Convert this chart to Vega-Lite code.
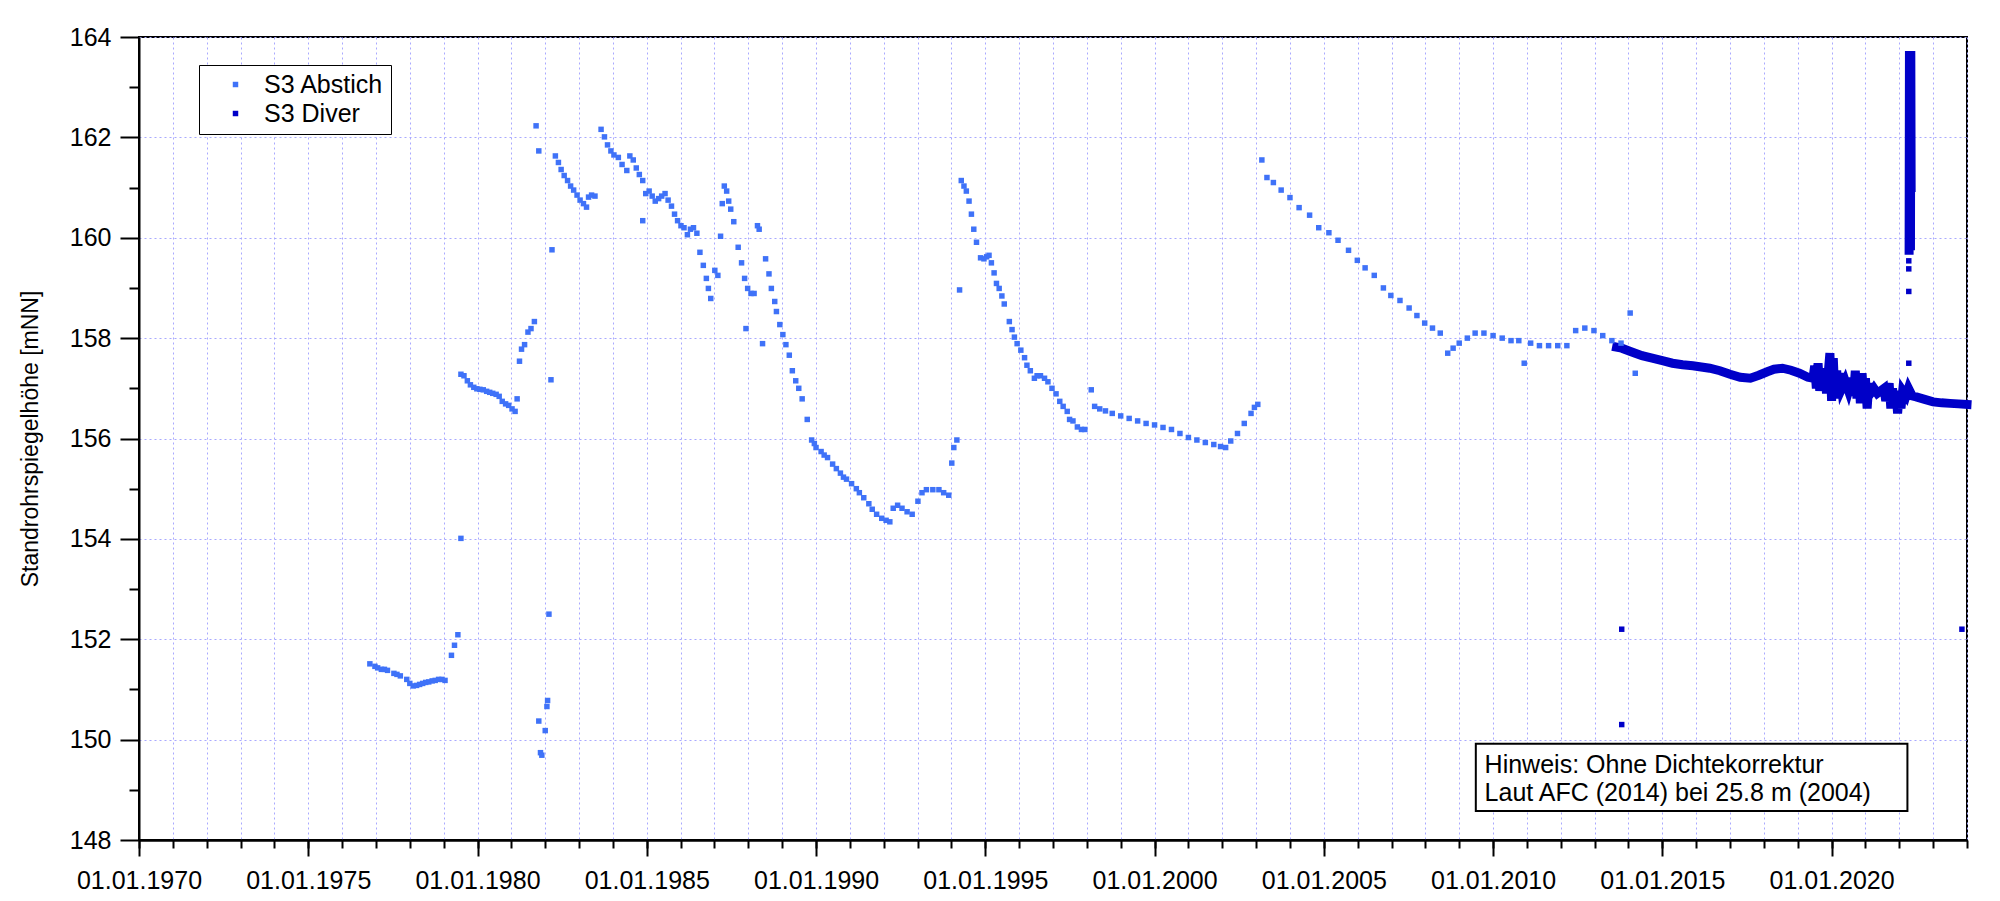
{
  "$schema": "https://vega.github.io/schema/vega-lite/v6.json",
  "width": 1828,
  "height": 803,
  "autosize": {"type": "none"},
  "padding": {"left": 139, "top": 37, "right": 33, "bottom": 61},
  "background": "white",
  "config": {
    "view": {"stroke": "black", "strokeWidth": 2},
    "font": "Liberation Sans",
    "axis": {
      "labelFont": "Liberation Sans",
      "labelFontSize": 25,
      "labelColor": "black",
      "domainColor": "black",
      "domainWidth": 2,
      "tickColor": "black",
      "tickWidth": 2,
      "gridColor": "#a9a9ff",
      "gridDash": [2, 3],
      "gridWidth": 1,
      "titleFont": "Liberation Sans",
      "titleFontWeight": "normal",
      "titleColor": "black"
    }
  },
  "resolve": {"axis": {"x": "independent"}},
  "datasets": {
    "abstich": [
      {"t":1976.82,"v":151.51},{"t":1976.97,"v":151.46},{"t":1977.05,"v":151.43},{"t":1977.16,"v":151.40},{"t":1977.25,"v":151.40},{"t":1977.34,"v":151.38},{"t":1977.53,"v":151.32},{"t":1977.62,"v":151.30},{"t":1977.72,"v":151.27},{"t":1977.91,"v":151.20},{"t":1978.0,"v":151.12},{"t":1978.10,"v":151.07},{"t":1978.2,"v":151.08},{"t":1978.29,"v":151.10},{"t":1978.38,"v":151.12},{"t":1978.47,"v":151.14},{"t":1978.56,"v":151.15},{"t":1978.66,"v":151.17},{"t":1978.75,"v":151.18},{"t":1978.85,"v":151.20},{"t":1978.95,"v":151.20},{"t":1979.04,"v":151.18},{"t":1979.23,"v":151.68},{"t":1979.32,"v":151.88},{"t":1979.42,"v":152.09},{"t":1979.51,"v":154.01},
      {"t":1979.51,"v":157.28},{"t":1979.60,"v":157.25},{"t":1979.70,"v":157.15},{"t":1979.79,"v":157.07},{"t":1979.89,"v":157.02},{"t":1979.98,"v":156.99},{"t":1980.07,"v":156.98},{"t":1980.17,"v":156.97},{"t":1980.27,"v":156.94},{"t":1980.36,"v":156.92},{"t":1980.45,"v":156.90},{"t":1980.55,"v":156.88},{"t":1980.64,"v":156.84},{"t":1980.73,"v":156.74},{"t":1980.83,"v":156.69},{"t":1980.92,"v":156.66},{"t":1981.02,"v":156.59},{"t":1981.11,"v":156.54},{"t":1981.17,"v":156.79},
      {"t":1981.24,"v":157.54},{"t":1981.30,"v":157.78},{"t":1981.39,"v":157.87},{"t":1981.49,"v":158.12},{"t":1981.58,"v":158.19},{"t":1981.68,"v":158.33},
      {"t":1981.73,"v":162.23},{"t":1981.81,"v":161.73},{"t":1982.20,"v":159.76},{"t":1982.17,"v":157.17},{"t":1982.11,"v":152.50},{"t":1982.07,"v":150.78},{"t":1982.05,"v":150.66},{"t":1982.00,"v":150.18},{"t":1981.81,"v":150.37},{"t":1981.86,"v":149.74},{"t":1981.90,"v":149.69},
      {"t":1982.30,"v":161.63},{"t":1982.39,"v":161.50},{"t":1982.47,"v":161.36},{"t":1982.56,"v":161.24},{"t":1982.66,"v":161.14},{"t":1982.75,"v":161.03},{"t":1982.84,"v":160.95},{"t":1982.94,"v":160.85},{"t":1983.03,"v":160.75},{"t":1983.13,"v":160.68},{"t":1983.22,"v":160.61},{"t":1983.28,"v":160.81},{"t":1983.37,"v":160.85},{"t":1983.47,"v":160.83},
      {"t":1983.65,"v":162.16},{"t":1983.75,"v":162.01},{"t":1983.84,"v":161.85},{"t":1983.94,"v":161.73},{"t":1984.03,"v":161.65},{"t":1984.16,"v":161.60},{"t":1984.27,"v":161.46},{"t":1984.41,"v":161.34},{"t":1984.50,"v":161.63},{"t":1984.60,"v":161.55},{"t":1984.69,"v":161.39},{"t":1984.78,"v":161.26},{"t":1984.88,"v":161.14},{"t":1984.88,"v":160.34},{"t":1984.97,"v":160.88},{"t":1985.07,"v":160.93},{"t":1985.16,"v":160.83},{"t":1985.25,"v":160.73},{"t":1985.35,"v":160.78},{"t":1985.44,"v":160.83},{"t":1985.54,"v":160.88},{"t":1985.63,"v":160.75},{"t":1985.73,"v":160.63},{"t":1985.82,"v":160.47},{"t":1985.91,"v":160.34},{"t":1986.01,"v":160.24},{"t":1986.10,"v":160.20},{"t":1986.20,"v":160.06},{"t":1986.29,"v":160.17},{"t":1986.38,"v":160.20},{"t":1986.48,"v":160.09},
      {"t":1986.57,"v":159.71},{"t":1986.67,"v":159.45},{"t":1986.76,"v":159.19},{"t":1986.82,"v":158.99},{"t":1986.89,"v":158.79},{"t":1987.01,"v":159.35},{"t":1987.10,"v":159.25},{"t":1987.18,"v":160.03},{"t":1987.23,"v":160.68},{"t":1987.29,"v":161.03},{"t":1987.36,"v":160.93},{"t":1987.42,"v":160.73},{"t":1987.48,"v":160.57},{"t":1987.57,"v":160.32},{"t":1987.70,"v":159.81},{"t":1987.80,"v":159.50},{"t":1987.89,"v":159.19},{"t":1987.93,"v":158.19},{"t":1987.98,"v":158.99},{"t":1988.08,"v":158.89},{"t":1988.17,"v":158.89},{"t":1988.27,"v":160.24},{"t":1988.32,"v":160.17},{"t":1988.42,"v":157.89},{"t":1988.51,"v":159.58},{"t":1988.61,"v":159.28},{"t":1988.68,"v":158.99},{"t":1988.78,"v":158.73},{"t":1988.83,"v":158.53},{"t":1988.93,"v":158.27},{"t":1989.02,"v":158.07},{"t":1989.11,"v":157.87},{"t":1989.21,"v":157.66},{"t":1989.30,"v":157.35},{"t":1989.40,"v":157.15},{"t":1989.49,"v":157.00},{"t":1989.59,"v":156.79},{"t":1989.74,"v":156.38},{"t":1989.87,"v":155.97},{"t":1989.95,"v":155.90},{"t":1990.00,"v":155.82},{"t":1990.15,"v":155.74},{"t":1990.24,"v":155.67},{"t":1990.34,"v":155.62},{"t":1990.49,"v":155.49},{"t":1990.6,"v":155.40},{"t":1990.72,"v":155.31},{"t":1990.81,"v":155.23},{"t":1990.90,"v":155.19},{"t":1991.05,"v":155.10},{"t":1991.19,"v":155.00},{"t":1991.28,"v":154.92},{"t":1991.41,"v":154.82},{"t":1991.56,"v":154.70},{"t":1991.66,"v":154.59},{"t":1991.79,"v":154.49},{"t":1991.94,"v":154.41},{"t":1992.07,"v":154.37},{"t":1992.18,"v":154.34},{"t":1992.28,"v":154.61},{"t":1992.41,"v":154.67},{"t":1992.54,"v":154.61},{"t":1992.69,"v":154.54},{"t":1992.84,"v":154.49},{"t":1993.01,"v":154.75},{"t":1993.13,"v":154.92},{"t":1993.26,"v":154.98},{"t":1993.45,"v":154.98},{"t":1993.63,"v":154.98},{"t":1993.77,"v":154.92},{"t":1993.92,"v":154.87},{"t":1994.01,"v":155.51},{"t":1994.07,"v":155.82},{"t":1994.16,"v":155.97},{"t":1994.24,"v":158.96},{"t":1994.29,"v":161.14},
      {"t":1994.37,"v":161.03},{"t":1994.44,"v":160.93},{"t":1994.52,"v":160.73},{"t":1994.59,"v":160.47},{"t":1994.66,"v":160.17},{"t":1994.74,"v":159.91},{"t":1994.86,"v":159.60},{"t":1994.96,"v":159.58},{"t":1995.04,"v":159.62},{"t":1995.11,"v":159.65},{"t":1995.18,"v":159.50},{"t":1995.26,"v":159.30},{"t":1995.33,"v":159.09},{"t":1995.41,"v":158.99},{"t":1995.49,"v":158.84},{"t":1995.56,"v":158.68},{"t":1995.71,"v":158.33},{"t":1995.79,"v":158.17},{"t":1995.86,"v":158.02},{"t":1995.94,"v":157.89},{"t":1996.05,"v":157.76},{"t":1996.16,"v":157.61},{"t":1996.23,"v":157.46},{"t":1996.33,"v":157.35},{"t":1996.45,"v":157.20},{"t":1996.53,"v":157.25},{"t":1996.63,"v":157.25},{"t":1996.75,"v":157.20},{"t":1996.85,"v":157.13},{"t":1996.97,"v":157.00},{"t":1997.09,"v":156.89},{"t":1997.20,"v":156.74},{"t":1997.30,"v":156.64},{"t":1997.42,"v":156.54},{"t":1997.49,"v":156.38},{"t":1997.59,"v":156.35},{"t":1997.72,"v":156.23},{"t":1997.84,"v":156.18},{"t":1997.94,"v":156.18},{"t":1998.13,"v":156.97},{"t":1998.23,"v":156.64},{"t":1998.38,"v":156.59},
      {"t":1998.55,"v":156.55},{"t":1998.75,"v":156.5},{"t":1999.0,"v":156.45},{"t":1999.25,"v":156.4},{"t":1999.5,"v":156.35},{"t":1999.75,"v":156.3},{"t":2000.0,"v":156.27},{"t":2000.25,"v":156.22},{"t":2000.5,"v":156.18},{"t":2000.75,"v":156.1},{"t":2001.0,"v":156.02},{"t":2001.25,"v":155.97},{"t":2001.5,"v":155.92},{"t":2001.75,"v":155.88},{"t":2001.95,"v":155.84},{"t":2002.1,"v":155.82},{"t":2002.25,"v":155.95},{"t":2002.45,"v":156.1},{"t":2002.65,"v":156.3},{"t":2002.85,"v":156.5},{"t":2002.95,"v":156.62},{"t":2003.05,"v":156.68},
      {"t":2003.17,"v":161.55},{"t":2003.32,"v":161.2},{"t":2003.51,"v":161.1},{"t":2003.74,"v":160.95},{"t":2004.0,"v":160.8},{"t":2004.27,"v":160.6},{"t":2004.58,"v":160.45},{"t":2004.85,"v":160.2},{"t":2005.15,"v":160.1},{"t":2005.42,"v":159.95},{"t":2005.73,"v":159.75},{"t":2005.99,"v":159.55},{"t":2006.22,"v":159.4},{"t":2006.49,"v":159.25},{"t":2006.76,"v":159.0},{"t":2006.98,"v":158.85},{"t":2007.25,"v":158.75},{"t":2007.52,"v":158.6},{"t":2007.75,"v":158.45},{"t":2007.98,"v":158.3},{"t":2008.21,"v":158.2},{"t":2008.44,"v":158.1},{"t":2008.66,"v":157.7},{"t":2008.82,"v":157.8},{"t":2009.0,"v":157.9},{"t":2009.24,"v":158.0},{"t":2009.47,"v":158.1},{"t":2009.73,"v":158.1},{"t":2010.0,"v":158.05},{"t":2010.27,"v":158.0},{"t":2010.53,"v":157.95},{"t":2010.76,"v":157.95},{"t":2010.92,"v":157.5},{"t":2011.11,"v":157.9},{"t":2011.37,"v":157.85},{"t":2011.64,"v":157.85},{"t":2011.91,"v":157.85},{"t":2012.18,"v":157.85},{"t":2012.44,"v":158.15},{"t":2012.71,"v":158.2},{"t":2012.98,"v":158.15},{"t":2013.24,"v":158.05},{"t":2013.51,"v":157.95},{"t":2013.78,"v":157.9},{"t":2014.05,"v":158.5},{"t":2014.2,"v":157.3}
    ],
    "diver": [
      {"t":2013.65,"v":157.82,"g":"a"},{"t":2013.8,"v":157.8,"g":"a"},{"t":2014.0,"v":157.75,"g":"a"},{"t":2014.2,"v":157.7,"g":"a"},{"t":2014.4,"v":157.65,"g":"a"},{"t":2014.7,"v":157.6,"g":"a"},{"t":2015.0,"v":157.55,"g":"a"},{"t":2015.3,"v":157.5,"g":"a"},{"t":2015.6,"v":157.47,"g":"a"},{"t":2015.9,"v":157.45,"g":"a"},{"t":2016.1,"v":157.43,"g":"a"},{"t":2016.4,"v":157.4,"g":"a"},{"t":2016.7,"v":157.35,"g":"a"},{"t":2017.0,"v":157.28,"g":"a"},{"t":2017.3,"v":157.22,"g":"a"},{"t":2017.6,"v":157.2,"g":"a"},{"t":2017.85,"v":157.26,"g":"a"},{"t":2018.1,"v":157.33,"g":"a"},{"t":2018.3,"v":157.38,"g":"a"},{"t":2018.55,"v":157.4,"g":"a"},{"t":2018.8,"v":157.36,"g":"a"},{"t":2019.05,"v":157.3,"g":"a"},{"t":2019.3,"v":157.22,"g":"a"},{"t":2019.45,"v":157.2,"g":"a"},
      {"t":2019.5,"v":157.45,"g":"a"},{"t":2019.55,"v":157.0,"g":"a"},{"t":2019.6,"v":157.5,"g":"a"},{"t":2019.65,"v":156.95,"g":"a"},{"t":2019.7,"v":157.4,"g":"a"},{"t":2019.75,"v":157.05,"g":"a"},{"t":2019.8,"v":157.35,"g":"a"},{"t":2019.85,"v":156.9,"g":"a"},{"t":2019.9,"v":157.3,"g":"a"},{"t":2019.95,"v":157.7,"g":"a"},{"t":2020.0,"v":156.75,"g":"a"},{"t":2020.05,"v":157.6,"g":"a"},{"t":2020.1,"v":156.8,"g":"a"},{"t":2020.15,"v":157.35,"g":"a"},{"t":2020.2,"v":156.95,"g":"a"},{"t":2020.25,"v":157.3,"g":"a"},{"t":2020.3,"v":157.0,"g":"a"},{"t":2020.4,"v":157.15,"g":"a"},{"t":2020.5,"v":156.95,"g":"a"},{"t":2020.6,"v":157.2,"g":"a"},{"t":2020.65,"v":156.85,"g":"a"},{"t":2020.7,"v":157.35,"g":"a"},{"t":2020.75,"v":156.8,"g":"a"},{"t":2020.8,"v":157.3,"g":"a"},{"t":2020.85,"v":156.7,"g":"a"},{"t":2020.9,"v":157.3,"g":"a"},{"t":2020.95,"v":156.8,"g":"a"},{"t":2021.0,"v":157.2,"g":"a"},{"t":2021.05,"v":156.6,"g":"a"},{"t":2021.1,"v":157.1,"g":"a"},{"t":2021.15,"v":156.9,"g":"a"},{"t":2021.25,"v":157.0,"g":"a"},{"t":2021.35,"v":156.9,"g":"a"},{"t":2021.45,"v":156.95,"g":"a"},{"t":2021.55,"v":157.0,"g":"a"},{"t":2021.6,"v":156.75,"g":"a"},{"t":2021.7,"v":157.1,"g":"a"},{"t":2021.75,"v":156.6,"g":"a"},{"t":2021.8,"v":157.0,"g":"a"},{"t":2021.85,"v":156.65,"g":"a"},{"t":2021.9,"v":156.95,"g":"a"},{"t":2021.95,"v":156.5,"g":"a"},{"t":2022.0,"v":156.9,"g":"a"},{"t":2022.05,"v":156.6,"g":"a"},{"t":2022.1,"v":156.95,"g":"a"},{"t":2022.2,"v":156.85,"g":"a"},{"t":2022.27,"v":157.0,"g":"a"},{"t":2022.38,"v":156.85,"g":"a"},
      {"t":2022.5,"v":156.83,"g":"a"},{"t":2022.75,"v":156.78,"g":"a"},{"t":2023.0,"v":156.73,"g":"a"},{"t":2023.25,"v":156.71,"g":"a"},{"t":2023.5,"v":156.7,"g":"a"},{"t":2023.75,"v":156.69,"g":"a"},{"t":2024.0,"v":156.68,"g":"a"},
      {"t":2022.29,"v":159.75,"g":"b"},{"t":2022.3,"v":163.72,"g":"b"},{"t":2022.34,"v":163.72,"g":"b"},{"t":2022.35,"v":161.0,"g":"b"},{"t":2022.33,"v":159.75,"g":"b"}
    ],
    "diverOut": [
      {"t":2013.8,"v":152.2},{"t":2013.8,"v":150.3},{"t":2023.85,"v":152.2},{"t":2022.28,"v":157.5},{"t":2022.28,"v":158.93},{"t":2022.28,"v":159.38},{"t":2022.28,"v":159.54}
    ],
    "box": [{"x":2009.49,"x2":2022.24,"y":149.92,"y2":148.58}],
    "note": [
      {"x":2009.75,"y":149.5,"txt":"Hinweis: Ohne Dichtekorrektur"},
      {"x":2009.75,"y":148.94,"txt":"Laut AFC (2014) bei 25.8 m (2004)"}
    ]
  },
  "layer": [
    {
      "data": {"name": "box"},
      "mark": {"type": "rect", "fill": "white", "stroke": "black", "strokeWidth": 2},
      "encoding": {
        "x": {
          "field": "x", "type": "quantitative",
          "scale": {"domain": [1970, 2024], "nice": false, "zero": false},
          "axis": {
            "title": null,
            "orient": "bottom",
            "values": [1970,1975,1980,1985,1990,1995,2000,2005,2010,2015,2020],
            "labelExpr": "'01.01.' + datum.value",
            "tickSize": 16,
            "labelPadding": 12,
            "labelOverlap": false,
            "labelFlush": false,
            "grid": false
          }
        },
        "x2": {"field": "x2"},
        "y": {
          "field": "y", "type": "quantitative",
          "scale": {"domain": [148, 164], "nice": false, "zero": false},
          "axis": {
            "title": "Standrohrspiegelhöhe [mNN]",
            "titleFontSize": 23,
            "titlePadding": 27,
            "values": [148,148.5,149,149.5,150,150.5,151,151.5,152,152.5,153,153.5,154,154.5,155,155.5,156,156.5,157,157.5,158,158.5,159,159.5,160,160.5,161,161.5,162,162.5,163,163.5,164],
            "labelExpr": "datum.value % 2 === 0 ? datum.value : ''",
            "tickSize": {"condition": {"test": "datum.value % 2 === 0", "value": 19}, "value": 10},
            "gridOpacity": {"condition": {"test": "datum.value % 2 === 0", "value": 1}, "value": 0},
            "labelPadding": 9,
            "labelOverlap": false,
            "grid": true
          }
        },
        "y2": {"field": "y2"}
      }
    },
    {
      "data": {"name": "note"},
      "mark": {"type": "text", "align": "left", "baseline": "middle", "fontSize": 25, "font": "Liberation Sans", "color": "black"},
      "encoding": {
        "x": {
          "field": "x", "type": "quantitative",
          "axis": {
            "title": null,
            "orient": "bottom",
            "values": [1970,1971,1972,1973,1974,1975,1976,1977,1978,1979,1980,1981,1982,1983,1984,1985,1986,1987,1988,1989,1990,1991,1992,1993,1994,1995,1996,1997,1998,1999,2000,2001,2002,2003,2004,2005,2006,2007,2008,2009,2010,2011,2012,2013,2014,2015,2016,2017,2018,2019,2020,2021,2022,2023,2024],
            "labels": false,
            "tickSize": 8,
            "grid": true,
            "zindex": 0
          }
        },
        "y": {"field": "y", "type": "quantitative"},
        "text": {"field": "txt"}
      }
    },
    {
      "data": {"name": "diver"},
      "mark": {"type": "line", "color": "#0000c8", "strokeWidth": 9, "strokeJoin": "miter", "strokeCap": "square"},
      "encoding": {
        "x": {"field": "t", "type": "quantitative", "axis": null},
        "y": {"field": "v", "type": "quantitative"},
        "detail": {"field": "g"}
      }
    },
    {
      "data": {"name": "abstich"},
      "mark": {"type": "point", "shape": "square", "filled": true, "size": 30, "opacity": 1},
      "encoding": {
        "x": {"field": "t", "type": "quantitative", "axis": null},
        "y": {"field": "v", "type": "quantitative"},
        "color": {
          "datum": "S3 Abstich",
          "scale": {"domain": ["S3 Abstich", "S3 Diver"], "range": ["#3f72f8", "#0000c8"]},
          "legend": {
            "title": null,
            "orient": "none",
            "legendX": 60,
            "legendY": 28,
            "strokeColor": "black",
            "fillColor": "white",
            "padding": 7,
            "symbolType": "square",
            "symbolSize": 30,
            "symbolOffset": 17,
            "labelOffset": 16,
            "labelAlign": "left",
            "labelFontSize": 25,
            "labelFont": "Liberation Sans",
            "labelColor": "black",
            "rowPadding": 3,
            "encode": {"legend": {"update": {"strokeWidth": {"value": 2}}}}
          }
        }
      }
    },
    {
      "data": {"name": "diverOut"},
      "mark": {"type": "point", "shape": "square", "filled": true, "size": 30, "opacity": 1},
      "encoding": {
        "x": {"field": "t", "type": "quantitative", "axis": null},
        "y": {"field": "v", "type": "quantitative"},
        "color": {"datum": "S3 Diver"}
      }
    }
  ]
}
